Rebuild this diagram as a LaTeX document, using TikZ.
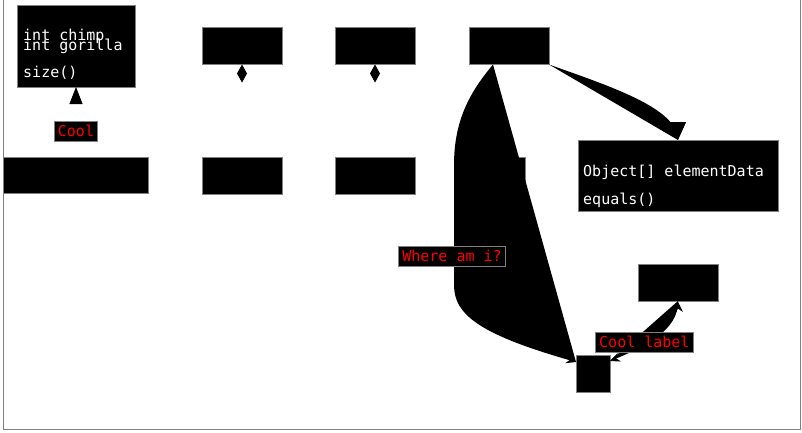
\documentclass[tikz,border=0pt]{standalone}
\usepackage{fontspec}
\setmonofont{DejaVu Sans Mono}
\usetikzlibrary{positioning,arrows.meta}

\begin{document}
\begin{tikzpicture}[
  x=1pt, y=-1pt, node distance=0pt,
  classnode/.style={rectangle, draw=gray, fill=black, line width=0.8pt, inner sep=0pt, outer sep=0pt},
  boxnode/.style={classnode, minimum width=80pt, minimum height=37pt},
  membertext/.style={font=\ttfamily\fontsize{15}{18}\selectfont, text=white, inner sep=0pt, anchor=base west},
  labelnode/.style={classnode, font=\ttfamily\fontsize{15}{18}\selectfont, text=red, inner xsep=3.5pt, minimum height=20pt},
  hidden/.style={draw=white, line width=0.8pt, shorten <=1pt}
]

\useasboundingbox (0,0) rectangle (802,432);
\draw[gray, line width=1pt] (3.5,0) -- (3.5,429.5) -- (800.5,429.5) -- (800.5,0);

%Nodes
\node[classnode, minimum width=118pt, minimum height=82pt] (ape) at (76,46) {};
\node[boxnode, right=67pt of ape] (top2) {};
\node[boxnode, right=53pt of top2] (top3) {};
\node[boxnode, right=54pt of top3] (top4) {};

\node[classnode, minimum width=145pt, minimum height=36pt, below=70pt of ape] (bot1) {};
\node[boxnode, below=93pt of top2] (bot2) {};
\node[boxnode, below=93pt of top3] (bot3) {};
\node[boxnode, minimum width=56pt, below=93pt of top4, xshift=-12pt] (bot4) {};

\node[classnode, minimum width=200pt, minimum height=71pt] (list) at (678,175.5) {};
\node[boxnode, below=53pt of list] (dbox) {};
\node[classnode, minimum width=34pt, minimum height=37pt] (small) at (593,373.5) {};

%Members
\node[membertext] (chimp) at (23,40) {int chimp};
\node[membertext] (gorilla) at (23,50) {int gorilla};
\node[membertext] (size) at (23,77) {size()};
\node[membertext] (data) at (583,176.5) {Object[] elementData};
\node[membertext] (equals) at (583,204) {equals()};

%Arrows
\draw[hidden, -{Triangle[length=17pt, width=13pt, color=black]}] (bot1) -- node[labelnode, pos=0.37] (cool) {Cool} (ape);
\draw[hidden, -{Diamond[length=18pt, width=10pt, color=black]}] (bot2) -- (top2);
\draw[hidden, -{Diamond[length=18pt, width=10pt, color=black]}] (bot3) -- (top3);

% filled curves (tips first, fill on top)
\draw[hidden, -{Triangle[length=18pt, width=16pt, color=black]}] (top4.south east) .. controls (609,86) and (678,108) .. (list.north);
\fill (top4.south east) .. controls (609,86) and (678,108) .. (list.north);

\draw[hidden, -{Stealth[length=10pt, width=8pt, color=black]}] ([xshift=-16pt]top4.south) .. controls (470,92) and (454,120) .. (454,165) -- (454,285) .. controls (454,315) and (480,335) .. ([yshift=-7pt]small.north west);
\fill ([xshift=-16pt]top4.south) .. controls (470,92) and (454,120) .. (454,165) -- node[labelnode, pos=0.76, xshift=-2pt] (where) {Where am i?} (454,285) .. controls (454,315) and (480,335) .. ([yshift=-7pt]small.north west);

\draw[hidden, {Stealth[length=10pt, width=9pt, color=black]}-{Stealth[length=10pt, width=9pt, color=black]}] (dbox.south) .. controls (679,330) and (645,347) .. ([yshift=-6pt]small.north east);
\fill (dbox.south) .. controls (679,330) and (645,347) .. ([yshift=-6pt]small.north east) node[labelnode, pos=0.6, xshift=-5pt] (coollabel) {Cool label};

\end{tikzpicture}
\end{document}
